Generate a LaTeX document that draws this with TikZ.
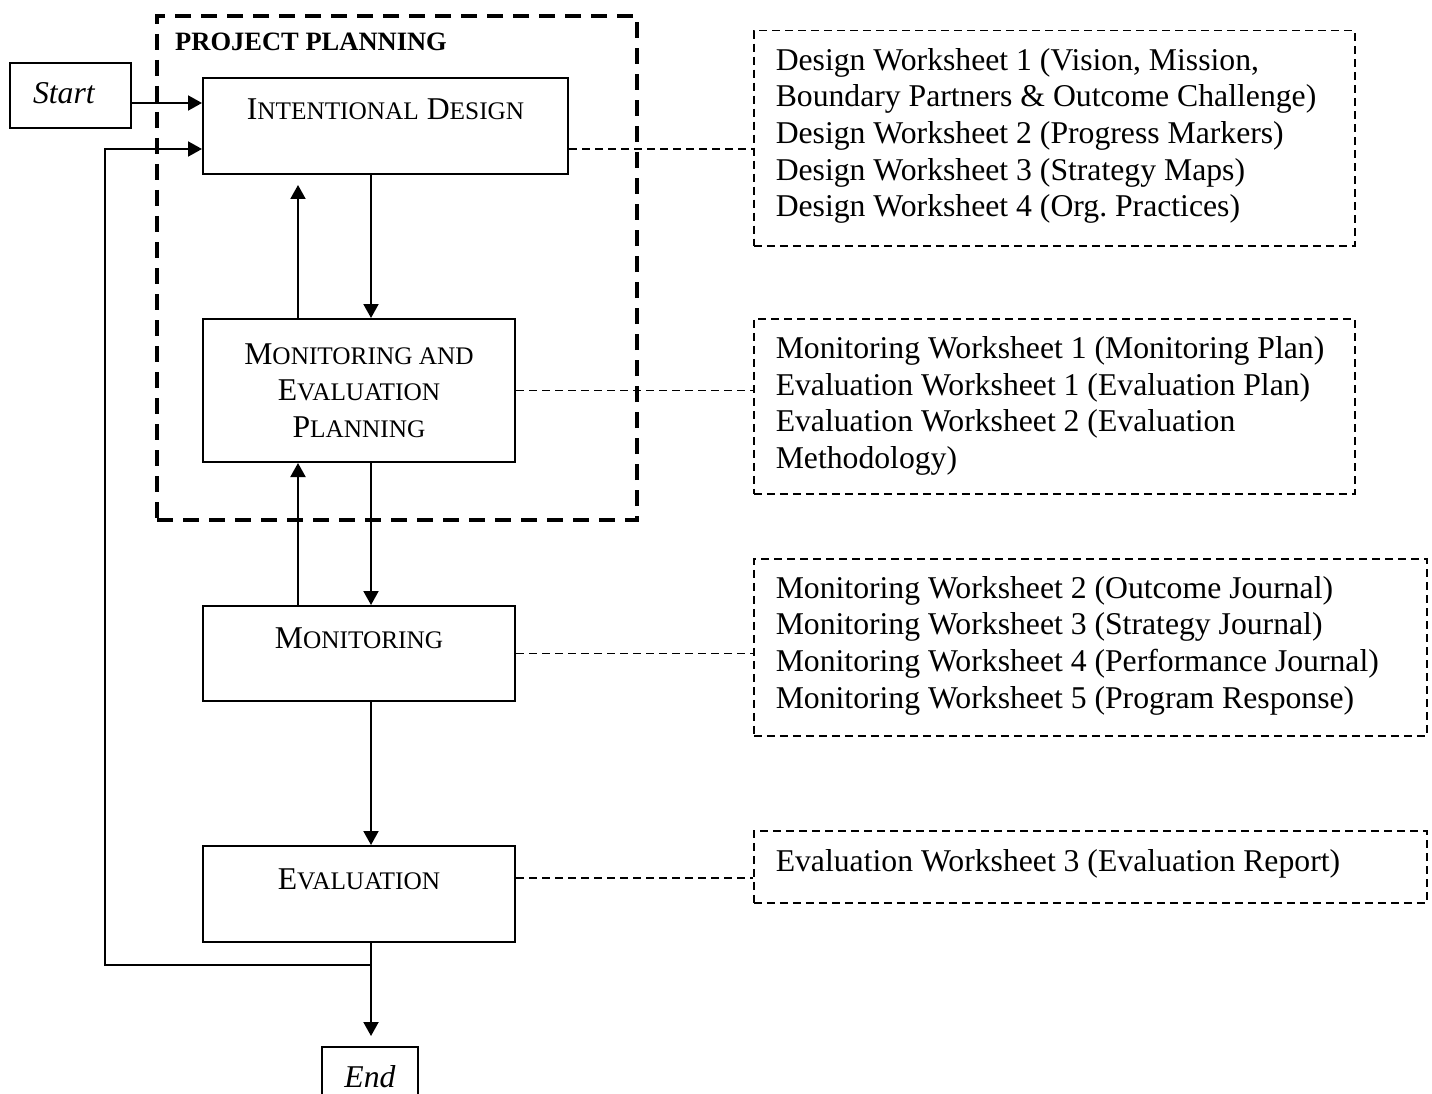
\documentclass[tikz,border=0pt]{standalone}
\usepackage{fontspec}
\setmainfont{Liberation Serif}
\usetikzlibrary{arrows.meta,calc}
\frenchspacing
\newcommand\SCx[2]{#1{\fontsize{25.3pt}{30pt}\selectfont #2}}
% #1 lift, #2 width, #3 lines
\newcommand\wstext[3]{\hspace*{22pt}\makebox[#2][l]{\raisebox{#1}[\height][\depth]{\begin{tabular}{@{}l@{}}#3\end{tabular}}}}
\begin{document}
\begin{tikzpicture}[x=1pt,y=-1pt,
  every node/.style={font=\fontsize{31.7pt}{36.7pt}\selectfont},
  procbox/.style={draw, line width=2pt, inner xsep=0pt, inner ysep=0pt, anchor=north west},
  wsbox/.style={draw, line width=1.5pt, dash pattern=on 8pt off 5pt, inner sep=0pt, anchor=north west},
  ppframe/.style={draw, line width=4pt, dash pattern=on 16pt off 10pt, inner sep=0pt, anchor=north west},
  arr/.style={line width=2pt, -{Triangle[length=14pt,width=15pt]}},
  link/.style={line width=1.5pt, dash pattern=on 8pt off 5pt},
]
\useasboundingbox (0,0) rectangle (1432,1094);

% project planning frame
\node[ppframe, minimum width=480pt, minimum height=504pt] (pp) at (155,14) {};
\node[font=\bfseries\fontsize{26.5pt}{30pt}\selectfont, anchor=base west, inner sep=0pt] (pplabel) at (175,51) {PROJECT PLANNING};

% process boxes
\node[procbox, minimum width=121pt, text height=41pt, text depth=24pt] (start) at (9,62) {\makebox[121pt][l]{\hspace{23pt}\itshape Start}};
\node[procbox, minimum width=365pt, text height=42pt, text depth=54pt] (id) at (202,77) {\SCx{I}{NTENTIONAL} \SCx{D}{ESIGN}};
\node[procbox, minimum width=312pt, minimum height=143pt, align=center] (mep) at (202,318) {\SCx{M}{ONITORING AND}\\\SCx{E}{VALUATION}\\\SCx{P}{LANNING}};
\node[procbox, minimum width=312pt, text height=42pt, text depth=53pt] (mon) at (202,605) {\SCx{M}{ONITORING}};
\node[procbox, minimum width=312pt, text height=43pt, text depth=53pt] (ev) at (202,845) {\SCx{E}{VALUATION}};
\node[procbox, anchor=north, minimum width=96pt, text height=40pt, text depth=24pt] (end) at (370,1046) {\itshape End};

% worksheet boxes
\node[wsbox, minimum width=601pt, minimum height=215pt] (w1) at (753,30) {\wstext{2pt}{579pt}{Design Worksheet 1 (Vision, Mission,\\Boundary Partners \& Outcome Challenge)\\Design Worksheet 2 (Progress Markers)\\Design Worksheet 3 (Strategy Maps)\\Design Worksheet 4 (Org. Practices)}};
\node[wsbox, minimum width=601pt, minimum height=175pt] (w2) at (753,318) {\wstext{0pt}{579pt}{Monitoring Worksheet 1 (Monitoring Plan)\\Evaluation Worksheet 1 (Evaluation Plan)\\Evaluation Worksheet 2 (Evaluation\\Methodology)}};
\node[wsbox, minimum width=673pt, minimum height=177pt] (w3) at (753,558) {\wstext{1.5pt}{651pt}{Monitoring Worksheet 2 (Outcome Journal)\\Monitoring Worksheet 3 (Strategy Journal)\\Monitoring Worksheet 4 (Performance Journal)\\Monitoring Worksheet 5 (Program Response)}};
\node[wsbox, minimum width=673pt, minimum height=72pt] (w4) at (753,830) {\wstext{3pt}{651pt}{Evaluation Worksheet 3 (Evaluation Report)}};

% helper coordinates
\coordinate (xr) at (371,0);
\coordinate (xl) at (298,0);
\coordinate (jn) at (371,965);
\coordinate (fbc) at (105,965);

% arrows
\draw[arr] ([yshift=-7.5pt]start.east) -- ([yshift=-7.5pt]start.east -| id.west);
\draw[arr] (id.south -| xr) -- (mep.north -| xr);
\draw[arr, shorten >=10pt] (mep.north -| xl) -- (id.south -| xl);
\draw[arr] (mep.south -| xr) -- (mon.north -| xr);
\draw[arr] (mon.north -| xl) -- (mep.south -| xl);
\draw[arr] (mon.south -| xr) -- (ev.north -| xr);
\draw[arr, shorten >=10pt] (ev.south -| xr) -- (end.north -| xr);
\draw[arr] (jn) -- (fbc) |- ([yshift=-23pt]id.west);

% dashed links
\draw[link] ([yshift=-23pt]id.east) -- ([yshift=-23pt]id.east -| w1.west);
\draw[link] (mep.east) -- (mep.east -| w2.west);
\draw[link] (mon.east) -- (mon.east -| w3.west);
\draw[link] ([yshift=16pt]ev.east) -- ([yshift=16pt]ev.east -| w4.west);
\end{tikzpicture}
\end{document}
